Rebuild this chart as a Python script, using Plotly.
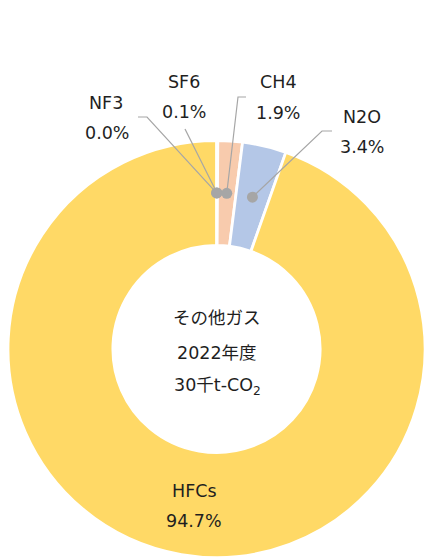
import math
import plotly.graph_objects as go

# ---- data ----
labels = ["NF3", "SF6", "CH4", "N2O", "HFCs"]
shares = [0.0, 0.1, 1.9, 3.4, 94.7]
share_text = ["0.0%", "0.1%", "1.9%", "3.4%", "94.7%"]
colors = ["#C9C9C9", "#C5E0B4", "#F8CBAD", "#B4C7E7", "#FFD966"]
center_lines = ["その他ガス", "2022年度", "30千t-CO<sub>2</sub>"]

# ---- layout constants (pixels) ----
W, H = 425, 558
CX, CY, R = 216.5, 349, 208.5
HOLE = 0.497
FONT = "DejaVu Sans, Noto Sans CJK JP, sans-serif"
TXT = "#1F1F1F"
GRAY = "#A6A6A6"

def px(x):
    return x / W

def py(y):
    return 1 - y / H

def clip(v):
    return min(1.0, max(0.0, v))

fig = go.Figure()
fig.add_trace(go.Pie(
    labels=labels, values=shares, sort=False, direction="clockwise",
    rotation=0, hole=HOLE, textinfo="none", hoverinfo="skip",
    marker=dict(colors=colors, line=dict(color="white", width=2.8)),
    domain=dict(x=[clip(px(CX - R)), clip(px(CX + R))],
                y=[clip(py(CY + R)), clip(py(CY - R))]),
    showlegend=False,
))

# mid-angle positions of each slice (ring middle) from data
total = sum(shares)
cum = 0.0
mids = []
r_mid = R * (1 + HOLE) / 2
for v in shares:
    a = (cum + v / 2) / total * 2 * math.pi
    mids.append((CX + r_mid * math.sin(a), CY - r_mid * math.cos(a)))
    cum += v

# label placement (name, pct) and leader-line start points
label_pos = {
    "NF3": ((106, 103), (107, 133), [(138, 117), (147, 117)]),
    "SF6": ((184, 82), (184, 112), [(185, 129)]),
    "CH4": ((278, 82), (278, 113), [(246, 97), (238, 97)]),
    "N2O": ((362, 117), (362, 147), [(332, 131), (322, 131)]),
    "HFCs": ((194, 491), (194, 521), None),
}

shapes = []
annotations = []
for i, lab in enumerate(labels):
    (nx, ny), (tx, ty), pts = label_pos[lab]
    annotations.append(dict(x=px(nx), y=py(ny), xref="paper", yref="paper",
                            text=lab, showarrow=False, xanchor="center", yanchor="middle",
                            font=dict(family=FONT, size=17.5, color=TXT)))
    annotations.append(dict(x=px(tx), y=py(ty), xref="paper", yref="paper",
                            text=share_text[i], showarrow=False, xanchor="center", yanchor="middle",
                            font=dict(family=FONT, size=17.5, color=TXT)))
    if pts:
        dx, dy = mids[i]
        allpts = pts + [(dx, dy)]
        path = "M " + " L ".join(f"{px(x)},{py(y)}" for x, y in allpts)
        shapes.append(dict(type="path", path=path, xref="paper", yref="paper",
                           line=dict(color=GRAY, width=1.2), layer="above"))

for i, lab in enumerate(labels):
    if label_pos[lab][2]:
        dx, dy = mids[i]
        rr = 5.5
        shapes.append(dict(type="circle", xref="paper", yref="paper",
                           x0=px(dx - rr), x1=px(dx + rr), y0=py(dy + rr), y1=py(dy - rr),
                           fillcolor=GRAY, line=dict(width=0), layer="above"))

for k, (line, yy) in enumerate(zip(center_lines, [318, 353, 386])):
    annotations.append(dict(x=px(217), y=py(yy), xref="paper", yref="paper",
                            text=line, showarrow=False, xanchor="center", yanchor="middle",
                            font=dict(family=FONT, size=17.5, color=TXT)))

fig.update_layout(
    width=W, height=H, margin=dict(l=0, r=0, t=0, b=0),
    paper_bgcolor="white", plot_bgcolor="white",
    shapes=shapes, annotations=annotations, showlegend=False,
)
fig.write_html("out.html", config={"displayModeBar": False},
               post_script="document.body.style.margin='0';")
